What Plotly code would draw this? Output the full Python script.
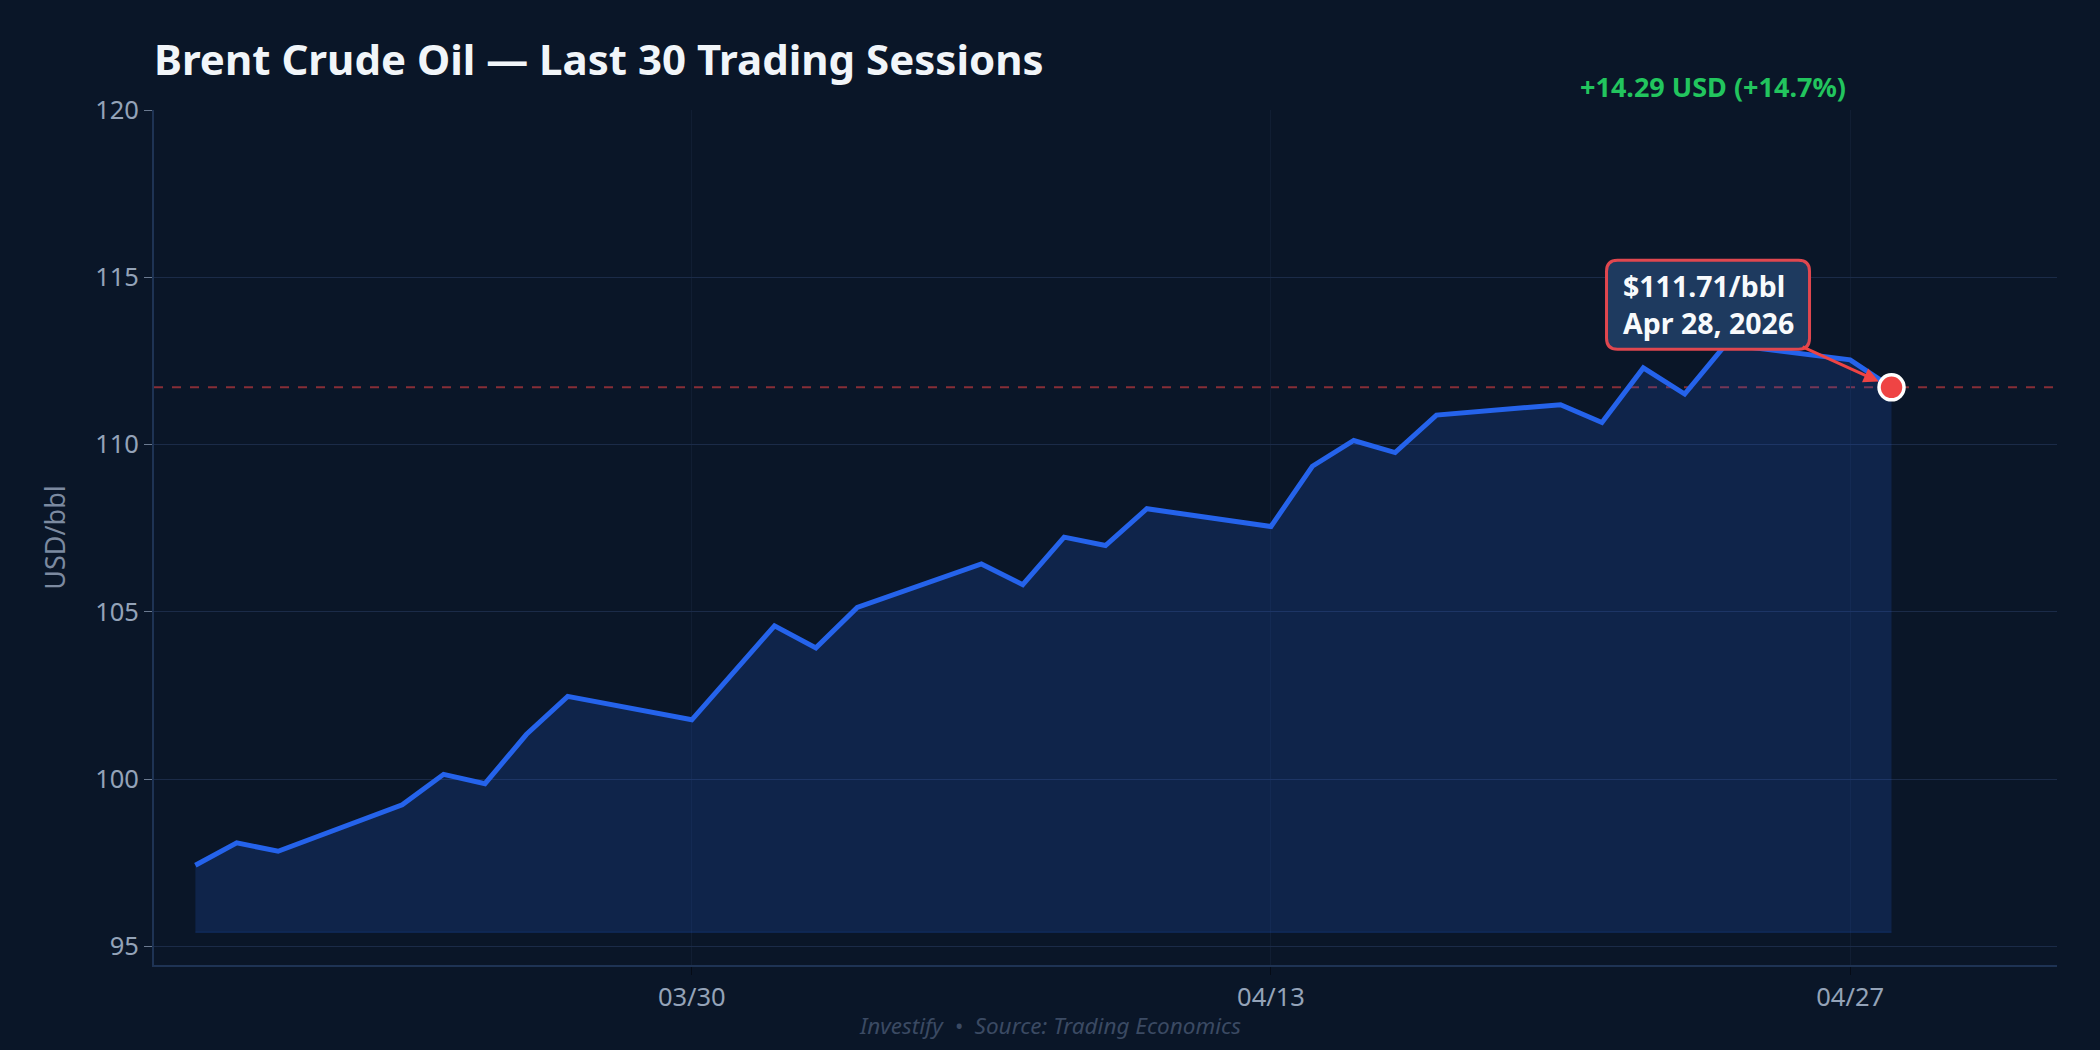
import plotly.graph_objects as go

# Brent crude, last 30 trading sessions (USD/bbl)
dates = [
    "2026-03-18", "2026-03-19", "2026-03-20",
    "2026-03-23", "2026-03-24", "2026-03-25", "2026-03-26", "2026-03-27",
    "2026-03-30", "2026-03-31", "2026-04-01", "2026-04-02", "2026-04-03",
    "2026-04-06", "2026-04-07", "2026-04-08", "2026-04-09", "2026-04-10",
    "2026-04-13", "2026-04-14", "2026-04-15", "2026-04-16", "2026-04-17",
    "2026-04-20", "2026-04-21", "2026-04-22", "2026-04-23", "2026-04-24",
    "2026-04-27", "2026-04-28",
]
prices = [
    97.42, 98.09, 97.84,
    99.23, 100.14, 99.86, 101.33, 102.47,
    101.77, 103.20, 104.58, 103.92, 105.13,
    106.43, 105.81, 107.23, 106.98, 108.08,
    107.55, 109.35, 110.12, 109.76, 110.88,
    111.19, 110.66, 112.29, 111.51, 113.00,
    112.53, 111.71,
]
y_ticks = [95, 100, 105, 110, 115, 120]
x_ticks = ["2026-03-30", "2026-04-13", "2026-04-27"]
x_tick_labels = ["03/30", "04/13", "04/27"]
last_label_date = "Apr 28, 2026"

BG = "#0a1628"
LINE = "#2563eb"
RED = "#ef4444"
GREEN = "#22c55e"
MUTED = "#94a3b8"
FONT = "Noto Sans"

last = prices[-1]
change = last - prices[0]
pct = change / prices[0] * 100
base = min(prices) - 2

fig = go.Figure()

# baseline for the area fill
fig.add_trace(go.Scatter(x=dates, y=[base] * len(dates), mode="lines",
                         line=dict(color="rgba(37,99,235,0.25)", width=1),
                         hoverinfo="skip", showlegend=False))
fig.add_trace(go.Scatter(x=dates, y=prices, mode="lines", fill="tonexty",
                         fillcolor="rgba(37,99,235,0.18)",
                         line=dict(color=LINE, width=5),
                         name="Brent", showlegend=False))
fig.add_trace(go.Scatter(x=[dates[-1]], y=[last], mode="markers",
                         marker=dict(color=RED, size=25, line=dict(color="white", width=3.5)),
                         showlegend=False))

# reference line at the latest price
fig.add_hline(y=last, line=dict(color="rgba(239,68,68,0.55)", width=2, dash="dash"), layer="below")

# rounded callout box, pixel offsets from the last point
r = 11
x0, x1, y0, y1 = -285, -82, 38, 127
box_path = (f"M {x0 + r},{y0} L {x1 - r},{y0} Q {x1},{y0} {x1},{y0 + r} "
            f"L {x1},{y1 - r} Q {x1},{y1} {x1 - r},{y1} L {x0 + r},{y1} "
            f"Q {x0},{y1} {x0},{y1 - r} L {x0},{y0 + r} Q {x0},{y0} {x0 + r},{y0} Z")
fig.add_shape(type="path", path=box_path, xref="x", yref="y",
              xsizemode="pixel", ysizemode="pixel",
              xanchor=dates[-1], yanchor=last,
              fillcolor="#1e3a5f", line=dict(color="#e0474f", width=3))

fig.add_annotation(x=dates[-1], y=last, xref="x", yref="y",
                   text=f"<b>${last:.2f}/bbl<br>{last_label_date}</b>",
                   align="left", showarrow=True, arrowhead=2, arrowsize=1,
                   arrowwidth=3, arrowcolor=RED, standoff=14,
                   ax=-183, ay=-83, borderpad=8, borderwidth=1,
                   bordercolor="rgba(0,0,0,0)",
                   font=dict(family=FONT, size=28.5, color="#f8fafc"))

fig.add_annotation(xref="paper", yref="paper", x=0.89, y=1.028,
                   xanchor="right", yanchor="middle", showarrow=False,
                   text=f"<b>{change:+.2f} USD ({pct:+.1f}%)</b>",
                   font=dict(family=FONT, size=27, color=GREEN))

fig.add_annotation(xref="paper", yref="paper", x=0.4708, y=-0.071,
                   xanchor="center", yanchor="middle", showarrow=False,
                   text="<i>Investify  •  Source: Trading Economics</i>",
                   font=dict(family=FONT, size=22.5, color="#3b4a63"))

fig.update_layout(
    width=2100, height=1050,
    paper_bgcolor=BG, plot_bgcolor=BG,
    margin=dict(l=154, r=43, t=110, b=85),
    font=dict(family=FONT, color=MUTED, size=25.5),
    title=dict(text="<b>Brent Crude Oil — Last 30 Trading Sessions</b>",
               x=154 / 2100, xanchor="left", y=1 - 60 / 1050, yanchor="middle",
               font=dict(family=FONT, size=42, color="#f1f5f9")),
    showlegend=False,
    hovermode="x unified",
)
fig.update_xaxes(range=["2026-03-17", "2026-05-02"], tickvals=x_ticks, ticktext=x_tick_labels,
                 showgrid=True, gridcolor="#111e33", gridwidth=1,
                 showline=True, linecolor="#1e3354", linewidth=2,
                 ticks="outside", ticklen=8, tickcolor="#050b16",
                 tickfont=dict(size=25.5, color=MUTED), zeroline=False)
fig.update_yaxes(range=[94.44, 120], tickvals=y_ticks,
                 showgrid=True, gridcolor="#1b2b48", gridwidth=1,
                 showline=True, linecolor="#1e3354", linewidth=2,
                 ticks="outside", ticklen=8, tickcolor="#6b7a90",
                 tickfont=dict(size=25.5, color=MUTED), zeroline=False,
                 title=dict(text="USD/bbl", font=dict(size=27, color="#7c8aa0"), standoff=22))

# drop the browser's default body margin so the figure sits flush in the window
fig.write_html("out.html", config={"displayModeBar": False},
               post_script="document.body.style.margin='0';")
